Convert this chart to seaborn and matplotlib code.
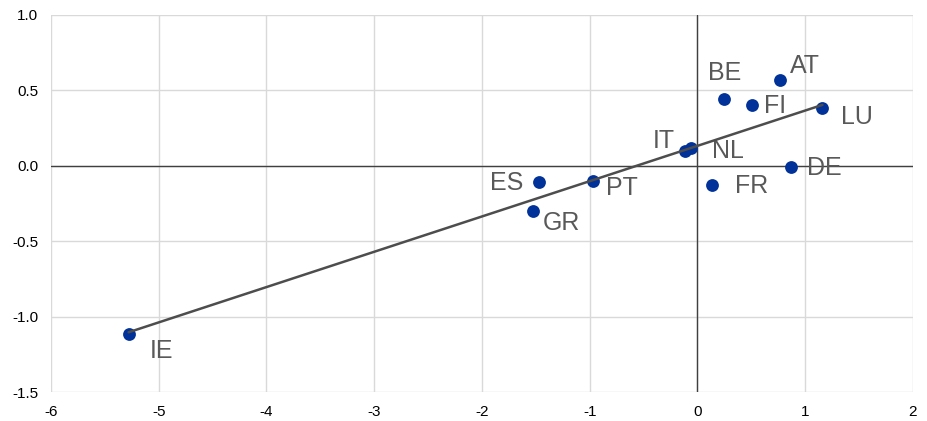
import numpy as np
import pandas as pd
import seaborn as sns
import matplotlib.pyplot as plt

countries = ['IE', 'GR', 'ES', 'PT', 'IT', 'NL', 'FR', 'BE', 'FI', 'AT', 'DE', 'LU']
x_vals = [-5.28, -1.53, -1.47, -0.97, -0.12, -0.06, 0.13, 0.25, 0.51, 0.77, 0.87, 1.16]
y_vals = [-1.115, -0.30, -0.11, -0.10, 0.095, 0.12, -0.13, 0.44, 0.405, 0.57, -0.01, 0.38]

# label offsets in pixels (dx, dy up) and alignment
offsets = {
    'IE': (21, -17, 'left'), 'GR': (10, -12, 'left'), 'ES': (-16, -1, 'right'),
    'PT': (13, -7, 'left'), 'IT': (-10, 10, 'right'), 'NL': (21, -3, 'left'),
    'FR': (23, -1, 'left'), 'BE': (0, 26, 'center'), 'FI': (12, -1, 'left'),
    'AT': (9, 14, 'left'), 'DE': (16, -1, 'left'), 'LU': (19, -9, 'left'),
}

df = pd.DataFrame({'country': countries, 'x': x_vals, 'y': y_vals})

sns.set_style('white')
plt.rcParams['font.family'] = ['Liberation Sans', 'DejaVu Sans']
plt.rcParams['axes.unicode_minus'] = False

fig = plt.figure(figsize=(9.28, 4.21), dpi=100)
ax = fig.add_axes([51 / 928, 29 / 421, 862 / 928, 377 / 421])

ax.axhline(0, color='#404040', lw=1, zorder=1)
ax.axvline(0, color='#404040', lw=1, zorder=1)

sns.regplot(data=df, x='x', y='y', ax=ax, ci=None,
            scatter_kws={'s': 85, 'color': '#003299', 'alpha': 1, 'zorder': 3, 'linewidths': 0},
            line_kws={'color': '#4d4d4d', 'lw': 1.8, 'zorder': 4})

for c, xv, yv in zip(countries, x_vals, y_vals):
    dx, dy, ha = offsets[c]
    ax.annotate(c, (xv, yv), xytext=(dx, dy), textcoords='offset pixels',
                ha=ha, va='center', fontsize=18, color='#595959')

ax.set_xlim(-6, 2)
ax.set_ylim(-1.5, 1.0)
ax.set_xticks(range(-6, 3))
ax.set_yticks(np.arange(-1.5, 1.01, 0.5))
ax.set_yticklabels([f'{v:.1f}' for v in np.arange(-1.5, 1.01, 0.5)])
ax.grid(True, color='#d9d9d9', lw=1)
ax.set_axisbelow(True)
for s in ax.spines.values():
    s.set_visible(False)
ax.tick_params(axis='both', length=0, labelsize=11, colors='#000000', pad=9)
ax.set_xlabel('')
ax.set_ylabel('')

fig.savefig('out.png', dpi=100)
